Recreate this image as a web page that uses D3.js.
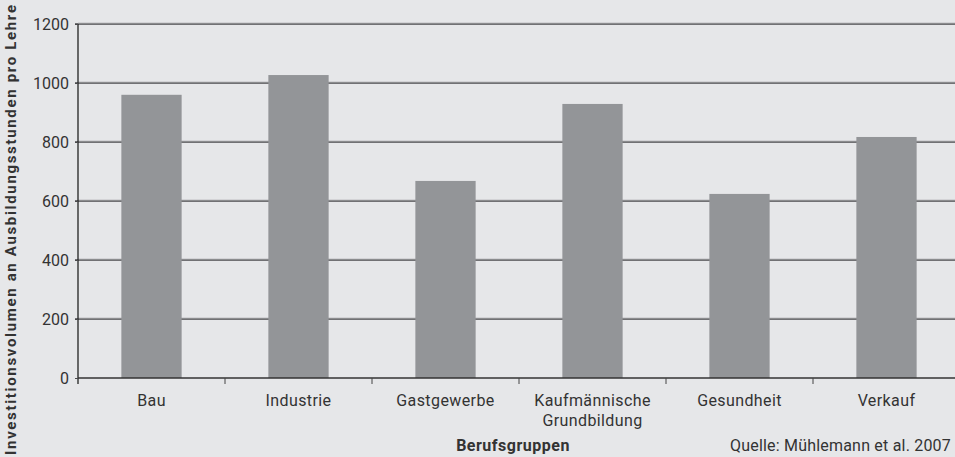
<!DOCTYPE html>
<html><head><meta charset="utf-8">
<script src="https://cdn.jsdelivr.net/npm/d3@7"></script>
<style>
html,body{margin:0;padding:0;background:#e6e7e9;}
svg{display:block;}
text{font-family:Roboto, "DejaVu Sans", sans-serif;fill:#333;}
</style></head>
<body><svg id="c" width="955" height="457"></svg>
<script>
const categories = ["Bau", "Industrie", "Gastgewerbe", "Kaufmännische\nGrundbildung", "Gesundheit", "Verkauf"];
const values = [960, 1027, 668, 929, 624, 817];
const yTicks = [0, 200, 400, 600, 800, 1000, 1200];
const yTitle = "Investitionsvolumen an Ausbildungsstunden pro Lehre";
const xTitle = "Berufsgruppen";
const source = "Quelle: Mühlemann et al. 2007";

const svg = d3.select("#c");
const m = {left: 78, top: 24, right: -5, bottom: 79};
const W = 955, H = 457;
const x = d3.scaleBand().domain(categories).range([m.left, W - m.right]).paddingInner(0.59).paddingOuter(0.295);
const y = d3.scaleLinear().domain([0, 1200]).range([H - m.bottom, m.top]);

// grid
svg.append("g").selectAll("line").data(yTicks.filter(d => d > 0)).join("line")
  .attr("x1", m.left - 3).attr("x2", W).attr("y1", d => y(d)).attr("y2", d => y(d))
  .attr("stroke", "#4a4a4c").attr("stroke-width", 1.3);
svg.append("g").selectAll("line").data(yTicks.filter(d => d > 0)).join("line")
  .attr("x1", m.left).attr("x2", W).attr("y1", d => y(d) - 1).attr("y2", d => y(d) - 1)
  .attr("stroke", "#b5b6b8").attr("stroke-width", 0.8);

// bars
svg.append("g").selectAll("rect").data(values).join("rect")
  .attr("x", (d, i) => x(categories[i])).attr("width", x.bandwidth())
  .attr("y", d => y(d)).attr("height", d => y(0) - y(d))
  .attr("fill", "#939598");

// y axis
const ya = svg.append("g").attr("transform", `translate(${m.left},0)`)
  .call(d3.axisLeft(y).tickValues(yTicks).tickFormat(d3.format("d")).tickSize(3).tickPadding(6));
ya.select(".domain").attr("stroke", "#222").attr("stroke-width", 1.3).attr("d", `M0,${m.top}V${y(0) + 6}`);
ya.selectAll(".tick line").attr("stroke", "#4a4a4c");
ya.selectAll(".tick text").attr("font-size", 16).attr("fill", "#333").attr("font-family", "Roboto, sans-serif");

// x axis
const boundaries = categories.slice(1).map(c => x(c) - x.step() * x.paddingInner() / 2);
svg.append("line").attr("x1", m.left).attr("x2", W).attr("y1", y(0)).attr("y2", y(0))
  .attr("stroke", "#333").attr("stroke-width", 1.5);
svg.append("g").selectAll("line").data(boundaries).join("line")
  .attr("x1", d => d).attr("x2", d => d).attr("y1", y(0)).attr("y2", y(0) + 6)
  .attr("stroke", "#444").attr("stroke-width", 1);

const lab = svg.append("g").selectAll("text").data(categories).join("text")
  .attr("text-anchor", "middle").attr("font-size", 16).attr("letter-spacing", 0.4)
  .attr("transform", d => `translate(${x(d) + x.bandwidth() / 2},${y(0) + 28})`);
lab.selectAll("tspan").data(d => d.split("\n")).join("tspan")
  .attr("x", 0).attr("dy", (d, i) => i === 0 ? 0 : 20).text(d => d);

svg.append("text").attr("x", 513).attr("y", 451).attr("text-anchor", "middle")
  .attr("font-size", 16).attr("font-weight", "bold").attr("letter-spacing", 0.5).text(xTitle);
svg.append("text").attr("x", 951).attr("y", 451).attr("text-anchor", "end")
  .attr("font-size", 16).attr("letter-spacing", 0.2).text(source);
svg.append("text").attr("transform", `translate(16,230) rotate(-90)`)
  .attr("text-anchor", "middle").attr("font-size", 15).attr("font-weight", "bold")
  .attr("textLength", 450).attr("lengthAdjust", "spacing").text(yTitle);
</script></body></html>
